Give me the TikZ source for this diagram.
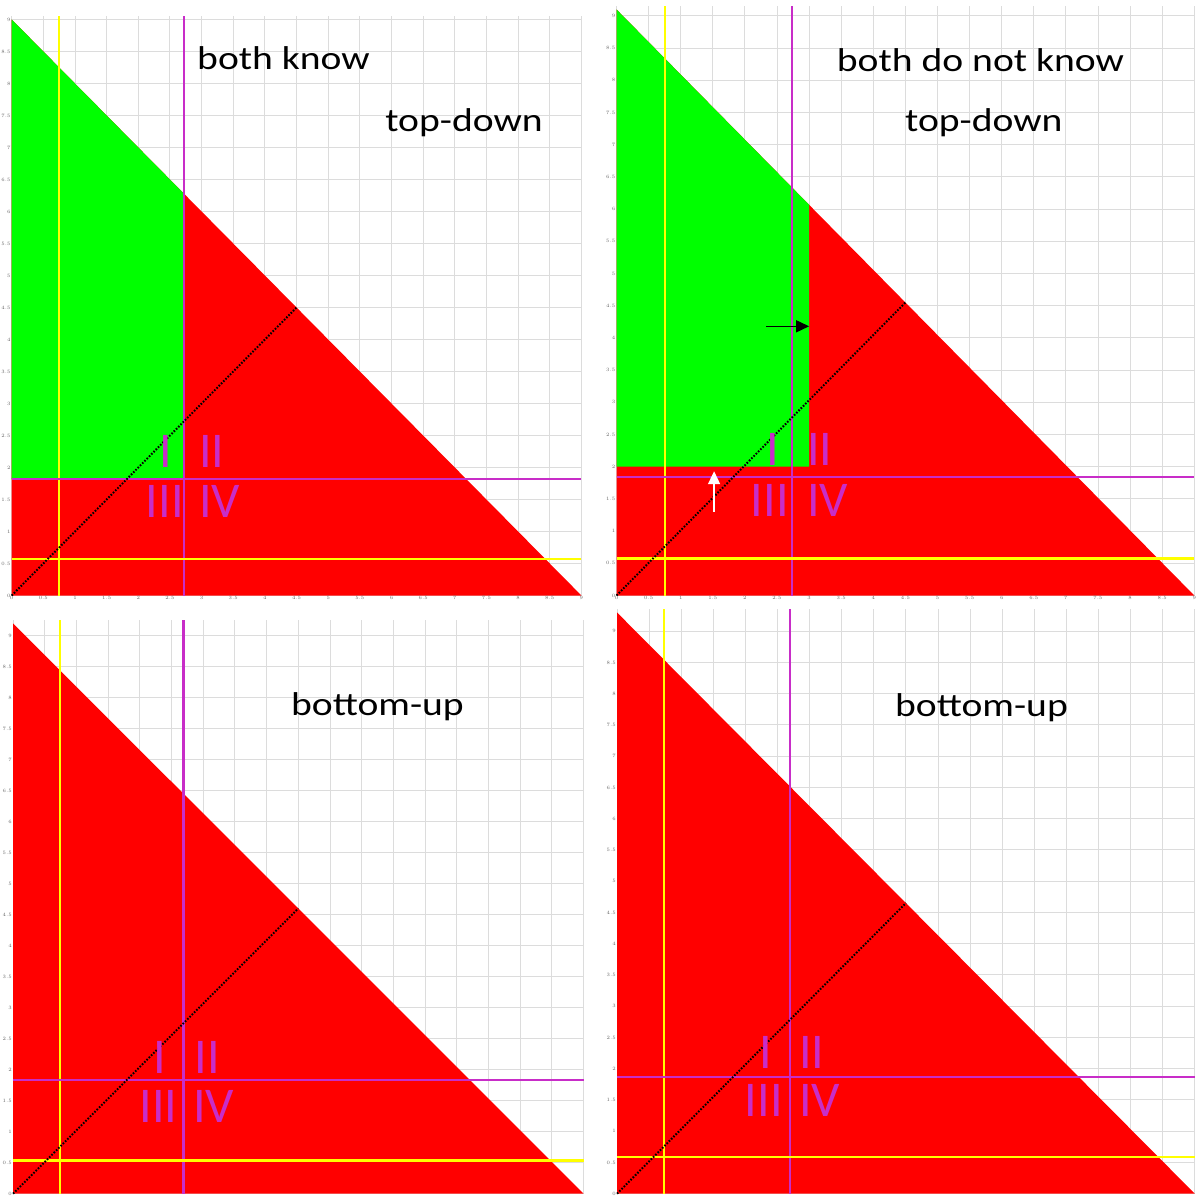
\documentclass[tikz,border=0pt]{standalone}
\usepackage{fontspec}
\setmainfont{Carlito}
\usepackage{tikz}
\usetikzlibrary{arrows.meta}
\definecolor{fieldgreen}{RGB}{0,255,0}
\definecolor{fieldred}{RGB}{255,0,0}
\definecolor{ruleyellow}{RGB}{255,255,0}
\definecolor{rulemag}{RGB}{200,45,200}
\definecolor{gridgray}{RGB}{220,220,220}
\newcommand{\wide}[1]{\scalebox{1.2}[1]{#1}}
% grid, y tick labels and red triangle; #1 = height of the apex
\newcommand{\drawfield}[1]{%
  \foreach \k [evaluate=\k as \v using \k/2] in {0,...,18} {
    \draw[gridline] (\v, 0) -- (\v, #1+0.05);
    \draw[gridline] (0, \v) -- (9, \v);
    \node[ticklabel, left] (ty\k) at (0, \v) {\pgfmathprintnumber{\v}};
  }
  \fill[fieldred] (0, 0) -- (9, 0) -- (0, #1) -- cycle;
}
% x tick labels (top panels only, the bottom ones are cut by the page)
\newcommand{\drawxticks}{%
  \foreach \k [evaluate=\k as \v using \k/2] in {0,...,18}
    \node[ticklabel, below] (tx\k) at (\v, 0) {\pgfmathprintnumber{\v}};
}
% yellow and magenta rules, dotted diagonal; #2/#3 = x of yellow/magenta, #4/#5 = y of magenta/yellow
\newcommand{\drawrules}[6]{%
  \draw[yrule] (#2, 0) -- (#2, #1+0.05);
  \draw[mrule] (#3, 0) -- (#3, #1+0.05);
  \draw[yrule] (0, #5) -- (9, #5);
  \draw[mrule] (0, #4) -- (9, #4);
  \coordinate (orig#6) at (0, 0);
  \coordinate (mid#6) at (4.5, #1/2);
  \draw[diag] (orig#6) -- (mid#6);
  \coordinate (cross#6) at (#3, #4);
}

\begin{document}
\begin{tikzpicture}[
  x=1pt, y=-1pt,
  gridline/.style={gridgray, line width=1pt},
  ticklabel/.style={font=\fontsize{3.5}{4}\selectfont, text=black!60, inner sep=1pt},
  yrule/.style={ruleyellow, line width=2.6pt},
  mrule/.style={rulemag, line width=2.2pt},
  diag/.style={black, line width=2pt, dash pattern=on 1.6pt off 1.6pt},
  numeral/.style={font=\fontsize{50}{55}\selectfont, text=rulemag, inner sep=0pt, anchor=base},
  caption/.style={font=\fontsize{33}{40}\selectfont, inner sep=0pt, anchor=base},
  arrowtip/.style={line width=1.6pt, -{Triangle[length=13pt, width=12pt]}}
]
  \useasboundingbox (0, 0) rectangle (1197, 1196);
  \fill[white] (0, 0) rectangle (1197, 1196);

  % top left: both know, top-down
  \begin{scope}[shift={(11.7, 595.5)}, x=63.3pt, y=64pt]
    \drawfield{9}
    \drawxticks
    \fill[fieldgreen] (0, 9) -- (2.72, 6.28) -- (2.72, 1.82) -- (0, 1.82) -- cycle;
    \drawrules{9}{0.747}{2.72}{1.82}{0.57}{A}
    \node[numeral] (oneA)   at ([xshift=-18pt, yshift=12pt]crossA) {I};
    \node[numeral] (twoA)   at ([xshift=28pt, yshift=12pt]crossA) {II};
    \node[numeral] (threeA) at ([xshift=-19pt, yshift=-38pt]crossA) {III};
    \node[numeral] (fourA)  at ([xshift=36pt, yshift=-38pt]crossA) {IV};
  \end{scope}

  % top right: both do not know, top-down
  \begin{scope}[shift={(616.5, 595.5)}, x=64.2pt, y=64.4pt]
    \drawfield{9.1}
    \drawxticks
    \fill[fieldgreen] (0, 9.1) -- (3, 6.067) -- (3, 2) -- (0, 2) -- cycle;
    \drawrules{9.1}{0.755}{2.73}{1.835}{0.57}{B}
    \node[numeral] (oneB)   at ([xshift=-19pt, yshift=12pt]crossB) {I};
    \node[numeral] (twoB)   at ([xshift=28pt, yshift=12pt]crossB) {II};
    \node[numeral] (threeB) at ([xshift=-22pt, yshift=-39pt]crossB) {III};
    \node[numeral] (fourB)  at ([xshift=36pt, yshift=-39pt]crossB) {IV};
    % shifts of the green border
    \coordinate (pushS) at (2.33, 4.18);
    \coordinate (pushE) at (3, 4.18);
    \draw[arrowtip, black] (pushS) -- (pushE);
    \coordinate (liftS) at (1.52, 1.30);
    \coordinate (liftE) at (1.52, 1.93);
    \draw[arrowtip, white] (liftS) -- (liftE);
  \end{scope}

  % bottom left: bottom-up
  \begin{scope}[shift={(13, 1193.7)}, x=63.4pt, y=62pt]
    \drawfield{9.2}
    \drawrules{9.2}{0.74}{2.69}{1.83}{0.54}{C}
    \node[numeral] (oneC)   at ([xshift=-24pt, yshift=7pt]crossC) {I};
    \node[numeral] (twoC)   at ([xshift=24pt, yshift=7pt]crossC) {II};
    \node[numeral] (threeC) at ([xshift=-25pt, yshift=-42pt]crossC) {III};
    \node[numeral] (fourC)  at ([xshift=30pt, yshift=-42pt]crossC) {IV};
  \end{scope}

  % bottom right: bottom-up
  \begin{scope}[shift={(617, 1193.7)}, x=64.2pt, y=62.5pt]
    \drawfield{9.3}
    \drawrules{9.3}{0.73}{2.69}{1.87}{0.59}{D}
    \node[numeral] (oneD)   at ([xshift=-24pt, yshift=8pt]crossD) {I};
    \node[numeral] (twoD)   at ([xshift=22pt, yshift=8pt]crossD) {II};
    \node[numeral] (threeD) at ([xshift=-26pt, yshift=-40pt]crossD) {III};
    \node[numeral] (fourD)  at ([xshift=30pt, yshift=-40pt]crossD) {IV};
  \end{scope}

  % panel captions
  \node[caption] (knowA) at (283.5, 69.3) {\wide{both know}};
  \node[caption] (modeA) at (464, 131.7) {\wide{top-down}};
  \node[caption] (knowB) at (980.5, 71.7) {\wide{both do not know}};
  \node[caption] (modeB) at (983.8, 131.7) {\wide{top-down}};
  \node[caption] (modeC) at (377.5, 715.7) {\wide{bottom-up}};
  \node[caption] (modeD) at (981.5, 716) {\wide{bottom-up}};
\end{tikzpicture}
\end{document}
